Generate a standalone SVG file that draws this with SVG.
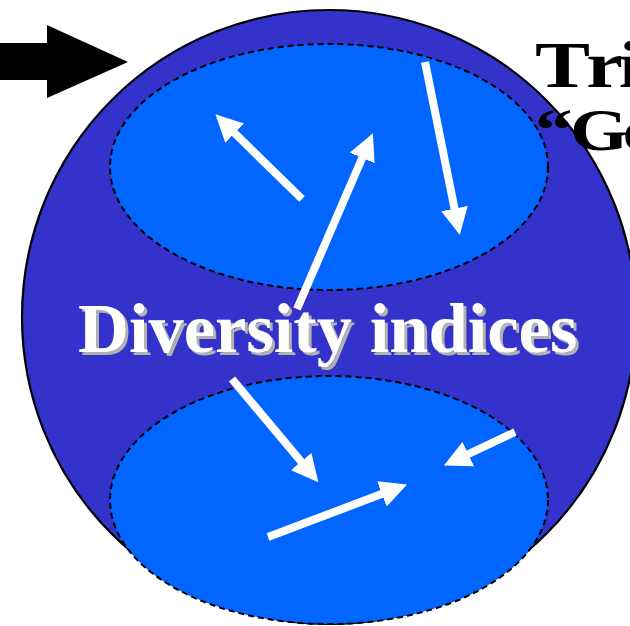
<svg xmlns="http://www.w3.org/2000/svg" width="630" height="626" viewBox="0 0 630 626">
  <defs>
    <style>
      .outer { fill: #3333CC; stroke: #000; stroke-width: 2.2; }
      .inner { fill: #0066FF; stroke: #000; stroke-width: 2; stroke-dasharray: 6 4; }
      .move { stroke: #FFFFFF; stroke-width: 8; fill: none; marker-end: url(#head); }
      .title { font-family: "Liberation Serif", "Times New Roman", serif; font-weight: bold; fill: #000; }
      .label { font-family: "Liberation Serif", "Times New Roman", serif; font-weight: bold; font-size: 70.5px; }
    </style>
    <marker id="head" viewBox="0 0 27 27" markerUnits="userSpaceOnUse" markerWidth="27" markerHeight="27" refX="1" refY="13.5" orient="auto">
      <path d="M0,0 L27,13.5 L0,27 Z" fill="#FFFFFF"/>
    </marker>
  </defs>

  <rect width="630" height="626" fill="#FFFFFF"/>

  <g id="pointer">
    <polygon points="0,43 47,43 47,25 128,62 47,98 47,80 0,80" fill="#000"/>
  </g>

  <g id="community">
    <circle class="outer" cx="329" cy="317" r="307"/>
  </g>

  <g id="upper-group">
    <ellipse class="inner" cx="329" cy="167" rx="219" ry="123"/>
  </g>

  <g id="lower-group">
    <ellipse class="inner" cx="329" cy="500" rx="219" ry="124"/>
  </g>

  <g id="connectors">
    <line class="move" x1="302" y1="199" x2="234" y2="132.5"/>
    <line class="move" x1="297" y1="309" x2="362.6" y2="157"/>
    <line class="move" x1="425" y1="62" x2="454.7" y2="209.5"/>
    <line class="move" x1="232" y1="379" x2="301.7" y2="462.3"/>
    <line class="move" x1="515" y1="432" x2="467.4" y2="454.5"/>
    <line class="move" x1="268" y1="537" x2="382.8" y2="493.6"/>
  </g>

  <g id="label">
    <text class="label" x="81" y="355" fill="#B2B2B2">Diversity indices</text>
    <text class="label" x="78" y="352" fill="#FFFFFF">Diversity indices</text>
  </g>

  <g id="title">
    <text class="title" font-size="66" transform="translate(535,87) scale(1.25,1)" x="0 41 67">Tri</text>
    <text class="title" font-size="60" transform="translate(535,150) scale(1.25,1)" x="0 28 70">“Go</text>
  </g>
</svg>
